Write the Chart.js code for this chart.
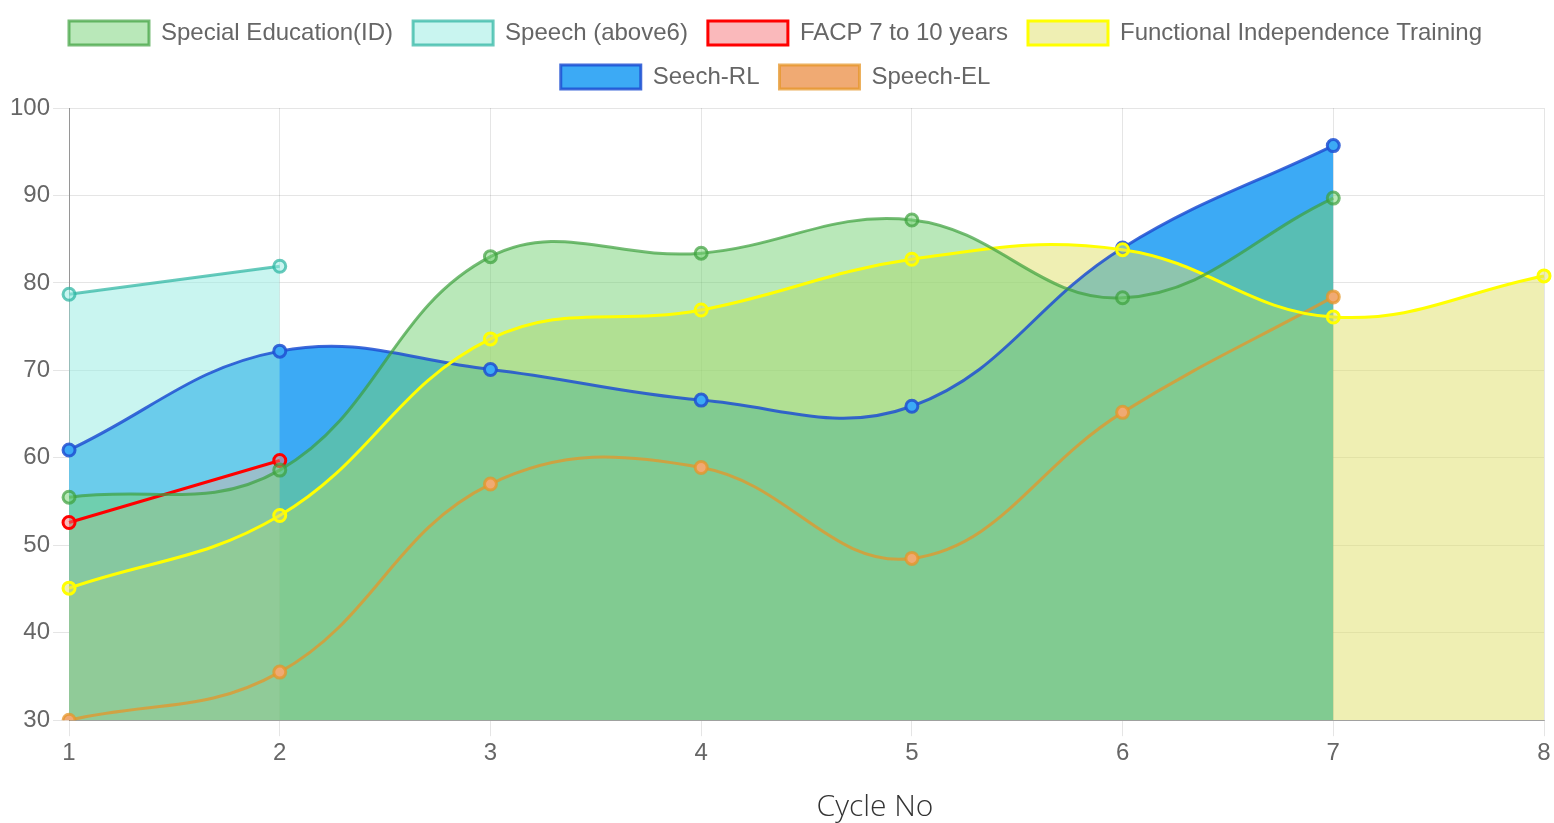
<!DOCTYPE html>
<html>
<head>
<meta charset="utf-8">
<title>Cycle progress</title>
<script src="https://cdn.jsdelivr.net/npm/chart.js@4.4.1/dist/chart.umd.min.js"></script>
<style>
  html, body { margin: 0; padding: 0; background: #fff; }
  .wrap { position: relative; width: 1554px; height: 823px; }
  .x-title {
    position: absolute; top: 784px; left: 875px; transform: translateX(-50%);
    font-family: 'Open Sans', 'Noto Sans', sans-serif; font-weight: 300;
    font-size: 30px; color: #333; white-space: nowrap;
  }
</style>
</head>
<body>
<div class="wrap">
  <canvas id="cycleChart"></canvas>
  <div class="x-title">Cycle No</div>
</div>
<script>
/* =============================================
   Progress per therapy cycle
   ============================================= */

const cycles = ['1', '2', '3', '4', '5', '6', '7', '8'];

const specialEducation = [55.5, 58.6, 83.0, 83.4, 87.2, 78.3, 89.7];
const speechAbove6     = [78.7, 81.9];
const facp7to10        = [52.6, 59.7];
const functionalTraining = [45.1, 53.4, 73.6, 76.9, 82.7, 83.8, 76.1, 80.8];
const seechRL          = [60.9, 72.2, 70.1, 66.6, 65.9, 84.0, 95.7];
const speechEL         = [30.0, 35.5, 57.0, 58.9, 48.5, 65.2, 78.4];

const yTicks = { min: 30, max: 100, step: 10 };

// helper: one filled, smoothed series
function serie(label, data, line, fill) {
  return {
    label: label,
    data: data,
    borderColor: line,
    backgroundColor: fill,
    pointBackgroundColor: fill,
    pointBorderColor: line,
    borderWidth: 3,
    pointRadius: 6,
    pointBorderWidth: 3,
    fill: true,
    tension: 0.4,
  };
}

const datasets = [
  serie('Special Education(ID)', specialEducation, 'rgba(60,160,60,0.7)',  'rgba(115,209,115,0.5)'),
  serie('Speech (above6)',       speechAbove6,     'rgba(40,180,160,0.7)', 'rgba(151,236,226,0.52)'),
  serie('FACP 7 to 10 years',    facp7to10,        '#ff0000',              'rgba(245,115,120,0.5)'),
  serie('Functional Independence Training', functionalTraining, '#ffff00', 'rgba(224,224,104,0.5)'),
  serie('Seech-RL',              seechRL,          'rgba(30,80,210,0.85)', 'rgb(60,170,245)'),
  serie('Speech-EL',             speechEL,         'rgba(230,150,40,0.75)','rgb(240,170,115)'),
];

const fontFamily = "'Liberation Sans', Arial, Helvetica, sans-serif";
Chart.defaults.font.family = fontFamily;
Chart.defaults.font.size = 24;
Chart.defaults.color = '#666';

// a bit of room between legend and plot
const legendGap = {
  id: 'legendGap',
  beforeInit(chart) {
    const fit = chart.legend.fit;
    chart.legend.fit = function () {
      fit.call(this);
      this.height += 9;
    };
  },
};

new Chart(document.getElementById('cycleChart'), {
  type: 'line',
  data: { labels: cycles, datasets: datasets },
  plugins: [legendGap],
  options: {
    responsive: true,
    maintainAspectRatio: false,
    animation: false,
    layout: { padding: { left: 7, right: 10, top: 1, bottom: 52 } },
    plugins: {
      filler: { drawTime: 'beforeDatasetsDraw' },
      legend: {
        position: 'top',
        labels: { boxWidth: 80, boxHeight: 24, padding: 20, font: { size: 24 } },
      },
      tooltip: { enabled: false },
    },
    scales: {
      x: {
        grid: { color: 'rgba(0,0,0,0.1)', tickLength: 16 },
        border: { color: 'rgba(0,0,0,0.3)' },
        ticks: { font: { size: 24 }, padding: 3 },
      },
      y: {
        min: yTicks.min,
        max: yTicks.max,
        grid: { color: 'rgba(0,0,0,0.1)', tickLength: 16 },
        border: { color: 'rgba(0,0,0,0.35)' },
        ticks: { stepSize: yTicks.step, font: { size: 24 }, padding: 3 },
      },
    },
  },
});
</script>
</body>
</html>
